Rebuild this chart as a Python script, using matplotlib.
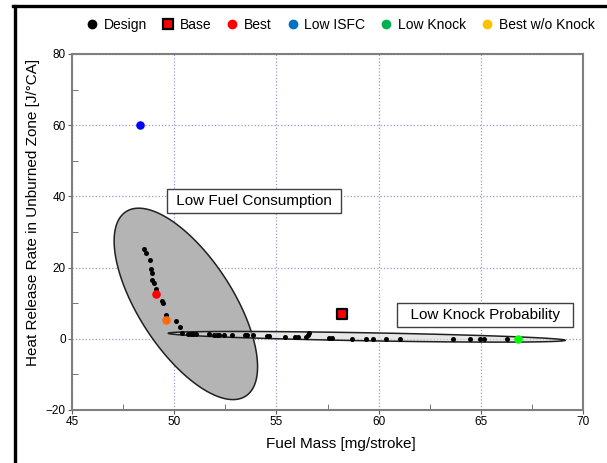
import numpy as np
import matplotlib
matplotlib.use("Agg")
import matplotlib.pyplot as plt
from matplotlib.lines import Line2D
from matplotlib.patches import Polygon
from matplotlib.ticker import MultipleLocator

plt.rcParams['font.family'] = ['Liberation Sans', 'DejaVu Sans']

# design points: fuel mass [mg/stroke] vs heat release rate [J/°CA]
design_x = [48.54, 48.62, 48.82, 48.87, 48.90, 48.93, 49.03, 49.11, 49.42, 49.47,
            49.60, 50.09, 50.27, 50.40, 50.69, 50.82, 50.93, 51.07, 51.72, 51.95,
            52.08, 52.20, 52.44, 52.81, 53.46, 53.58, 53.87, 54.52, 54.64, 55.42,
            55.90, 56.07, 56.47, 56.55, 56.60, 57.59, 57.70, 58.72, 59.37, 59.71,
            60.36, 61.05, 63.62, 64.47, 64.96, 65.17, 66.27]
design_y = [25.2, 24.0, 22.1, 19.5, 18.6, 16.5, 15.8, 13.9, 10.7, 10.0,
            6.7, 4.9, 3.2, 1.7, 1.35, 1.35, 1.35, 1.35, 1.3, 1.15,
            1.15, 1.15, 1.1, 1.05, 1.0, 1.0, 0.95, 0.8, 0.8, 0.6,
            0.55, 0.5, 0.5, 1.15, 1.6, 0.1, 0.1, 0.05, 0.0, 0.0,
            0.0, 0.0, -0.05, -0.05, -0.05, -0.05, -0.1]

base_x, base_y = [58.19], [7.0]
best_x, best_y = [49.11], [12.7]
low_isfc_x, low_isfc_y = [48.33], [60.0]
low_knock_x, low_knock_y = [66.8], [0.0]
best_nk_x, best_nk_y = [49.6], [5.2]

legend_labels = ['Design', 'Base', 'Best', 'Low ISFC', 'Low Knock', 'Best w/o Knock']

# region ellipses: centre and the two semi-axis vectors in data units
fuel_centre, fuel_major, fuel_minor = (50.57, 9.8), (2.93, -25.9), (1.93, 7.2)
knock_centre, knock_major, knock_minor = (59.42, 0.56), (9.71, -0.99), (0.02, 1.12)


def ellipse_poly(centre, major, minor, n=200):
    t = np.linspace(0, 2 * np.pi, n)
    xs = centre[0] + major[0] * np.cos(t) + minor[0] * np.sin(t)
    ys = centre[1] + major[1] * np.cos(t) + minor[1] * np.sin(t)
    return np.column_stack([xs, ys])


fig = plt.figure(figsize=(6.07, 4.63), dpi=100)
ax = fig.add_axes([0.1186, 0.1145, 0.8419, 0.769])

ax.add_patch(Polygon(ellipse_poly(fuel_centre, fuel_major, fuel_minor), closed=True,
                     facecolor='#b4b4b4', edgecolor='#202020', lw=1.1, zorder=2))
ax.add_patch(Polygon(ellipse_poly(knock_centre, knock_major, knock_minor), closed=True,
                     facecolor='#d8d8d8', alpha=0.6, edgecolor='none', zorder=3))
ax.add_patch(Polygon(ellipse_poly(knock_centre, knock_major, knock_minor), closed=True,
                     facecolor='none', edgecolor='#202020', lw=1.1, zorder=3))

ax.scatter(design_x, design_y, s=13, color='black', zorder=4, linewidths=0)
ax.scatter(base_x, base_y, s=55, marker='s', color='red', edgecolors='black',
           linewidths=1.6, zorder=5)
ax.scatter(best_x, best_y, s=38, color='#ff0000', zorder=5, linewidths=0)
ax.scatter(low_isfc_x, low_isfc_y, s=38, color='#0000ff', zorder=5, linewidths=0)
ax.scatter(low_knock_x, low_knock_y, s=38, color='#00ff00', zorder=5, linewidths=0)
ax.scatter(best_nk_x, best_nk_y, s=38, color='#ff6a10', zorder=5, linewidths=0)

box = dict(boxstyle='square,pad=0.33', facecolor='white', edgecolor='#404040', lw=1.0)
ax.text(53.9, 38.6, ' Low Fuel Consumption ', fontsize=11, ha='center', va='center',
        bbox=box, zorder=6)
ax.text(65.2, 6.8, '  Low Knock Probability  ', fontsize=11, ha='center', va='center',
        bbox=box, zorder=6)

ax.set_xlim(45, 70)
ax.set_ylim(-20, 80)
ax.xaxis.set_major_locator(MultipleLocator(5))
ax.xaxis.set_minor_locator(MultipleLocator(2.5))
ax.yaxis.set_major_locator(MultipleLocator(20))
ax.yaxis.set_minor_locator(MultipleLocator(10))
ax.grid(True, which='major', linestyle=':', color='#9a9ad0', lw=0.9, zorder=0)
ax.set_axisbelow(True)
ax.tick_params(which='major', direction='out', length=3, color='#606060',
               labelsize=8.5, pad=1.5)
ax.tick_params(which='minor', direction='in', length=4, color='#606060')
for sp in ax.spines.values():
    sp.set_color('#7f7f7f')
    sp.set_linewidth(1.5)

ax.set_xlabel('Fuel Mass [mg/stroke]', fontsize=11)
ax.set_ylabel('Heat Release Rate in Unburned Zone [J/°CA]', fontsize=11)
ax.xaxis.set_label_coords(0.527, -0.075)
ax.yaxis.set_label_coords(-0.062, 0.555)

# legend swatches use the palette colours of the report
handles = [
    Line2D([], [], ls='none', marker='o', color='black', markersize=6),
    Line2D([], [], ls='none', marker='s', markerfacecolor='red', markeredgecolor='black',
           markeredgewidth=1.6, markersize=7.5),
    Line2D([], [], ls='none', marker='o', color='#ff0000', markersize=6),
    Line2D([], [], ls='none', marker='o', color='#0070c0', markersize=6),
    Line2D([], [], ls='none', marker='o', color='#00b050', markersize=6),
    Line2D([], [], ls='none', marker='o', color='#ffc000', markersize=6),
]
fig.legend(handles, legend_labels, loc='center', bbox_to_anchor=(0.56, 0.946), ncol=6,
           frameon=False, fontsize=10, handlelength=1.0, handletextpad=0.35,
           columnspacing=1.0, borderaxespad=0)

# black border along the left and top edge
fig.add_artist(Line2D([14.5 / 607, 14.5 / 607], [0, 1 - 5.5 / 463],
                      transform=fig.transFigure, color='black', lw=2.4))
fig.add_artist(Line2D([13 / 607, 1], [1 - 5.5 / 463, 1 - 5.5 / 463],
                      transform=fig.transFigure, color='black', lw=2.4))

fig.savefig('out.png', dpi=100)
